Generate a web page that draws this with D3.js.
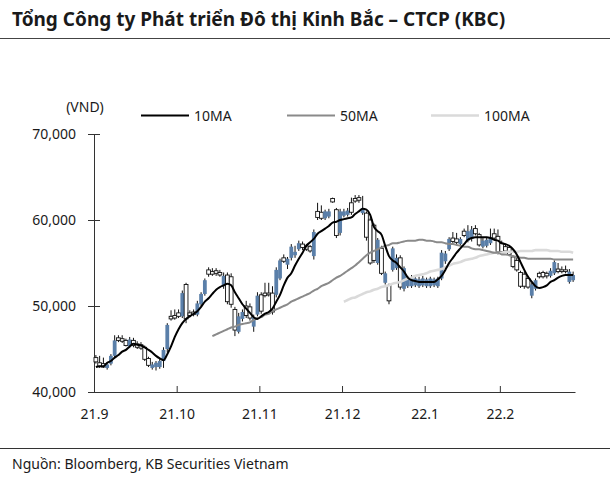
<!DOCTYPE html>
<html><head><meta charset="utf-8">
<script src="https://cdn.jsdelivr.net/npm/d3@7"></script>
<style>body{margin:0;background:#fff} text{font-family:"Noto Sans",sans-serif;fill:#1a1a1a}</style>
</head><body><svg id="c" width="610" height="479"></svg>
<script>
// Prices in thousand VND, one entry per trading day (Sep 2021 – Feb 2022)
const openP=[44.0,43.4,43.3,42.8,43.3,44.2,46.3,46.2,46.0,45.3,46.0,45.6,45.5,45.2,43.9,42.8,42.9,42.9,43.6,45.0,
48.8,48.9,49.2,48.8,52.5,49.2,49.3,49.0,50.2,51.4,54.2,54.0,54.1,53.9,52.3,53.6,53.4,49.6,47.0,48.5,
50.0,49.9,47.6,49.0,51.3,51.5,51.5,51.5,51.3,53.2,55.6,54.8,55.6,55.9,56.6,57.2,57.0,56.9,55.8,61.0,
60.9,60.2,60.4,62.5,61.2,58.5,60.5,60.6,62.0,62.5,62.6,60.8,60.8,60.0,59.4,55.0,56.7,52.7,52.4,54.2,
54.4,55.6,52.0,52.3,52.3,52.4,52.3,52.4,52.3,52.3,52.4,52.3,53.2,55.2,56.6,57.9,57.8,57.2,58.7,57.6,
57.8,59.0,58.3,56.9,57.0,57.3,58.4,58.1,57.3,56.9,56.8,55.7,55.3,53.9,53.7,53.2,51.2,52.0,53.8,53.9,
53.8,53.5,53.8,54.3,54.2,54.2,52.8,53.0];
const highP=[44.3,44.2,44.0,43.4,44.4,46.6,46.6,46.6,46.2,46.4,46.3,45.9,45.8,45.4,44.1,43.5,43.6,43.9,45.2,48.0,
49.5,49.6,49.6,51.8,52.7,49.5,49.6,50.6,51.6,53.2,54.5,54.4,54.4,54.2,53.9,53.9,53.8,49.9,49.2,49.6,
50.6,50.3,49.0,51.6,51.6,52.7,52.7,52.3,54.5,55.5,56.0,55.7,57.2,57.0,57.6,57.5,57.2,57.1,58.9,62.0,
61.7,61.2,61.3,62.6,61.4,61.3,61.3,61.4,62.6,62.9,62.9,62.8,61.0,60.3,59.6,57.9,57.0,54.0,52.6,56.9,
56.0,55.9,54.6,53.5,53.6,53.5,53.4,53.5,53.3,53.4,53.3,53.4,56.5,56.4,58.0,58.6,58.5,58.0,59.0,59.4,
59.3,59.4,58.5,57.9,58.0,59.0,59.0,58.9,57.6,57.2,57.0,55.9,55.6,54.1,54.0,53.5,52.7,53.2,54.0,54.1,
54.0,54.4,55.3,55.0,54.6,54.7,54.3,54.0];
const lowP=[43.3,42.8,42.8,42.6,43.1,44.0,45.8,45.7,45.3,45.1,45.2,45.0,44.9,43.6,42.9,42.6,42.5,42.7,42.8,44.6,
48.3,48.4,48.6,48.6,48.0,48.7,48.8,48.8,50.0,51.2,53.4,53.5,53.5,53.4,52.0,50.2,49.8,46.5,46.8,48.2,
48.6,48.3,47.0,48.8,49.1,51.0,51.1,49.0,51.0,53.0,55.0,54.3,55.3,55.6,56.4,56.5,56.4,56.2,55.4,60.0,
60.0,60.0,60.2,62.0,57.9,58.2,60.3,60.4,60.6,62.0,62.0,60.6,57.6,54.8,55.0,54.8,53.6,52.5,50.2,54.0,
54.2,51.9,51.7,52.1,52.1,52.2,52.1,52.2,52.1,52.1,52.2,52.1,53.0,54.9,56.4,57.2,57.2,57.0,58.0,57.4,
57.5,58.2,56.9,56.7,56.8,57.1,57.7,56.0,56.1,56.2,55.8,54.4,54.0,52.1,52.0,52.0,50.9,51.8,53.2,53.2,
53.2,53.3,53.6,53.8,53.8,53.8,52.6,52.8];
const closeP=[43.5,43.0,42.9,43.2,44.2,46.0,46.0,45.9,45.4,46.1,45.4,45.2,45.1,43.8,43.1,43.2,43.4,43.6,44.9,47.8,
48.5,48.6,48.8,51.5,48.5,48.9,49.0,50.3,51.4,53.0,53.7,53.7,53.8,53.6,53.5,50.5,50.2,47.2,48.8,49.3,
48.9,48.6,48.7,51.2,49.4,51.2,51.3,49.3,54.2,55.3,55.2,55.5,56.9,56.3,57.3,56.8,56.6,56.4,58.6,60.3,
60.2,61.0,61.0,62.1,58.2,61.0,61.0,61.1,60.9,62.2,62.3,61.4,58.0,55.0,55.3,57.7,53.8,53.8,50.6,56.7,
55.6,52.2,54.4,53.3,53.2,53.2,53.1,53.2,53.1,53.2,53.1,53.2,56.2,56.1,57.8,57.5,57.4,57.8,58.2,58.7,
58.9,58.4,57.1,57.6,57.7,58.0,57.9,56.3,56.3,56.4,56.0,54.6,54.2,52.3,52.3,52.2,52.5,53.0,53.4,53.4,
53.5,54.1,55.1,54.0,54.0,54.0,54.0,53.6];
// Moving averages
const ma10=[42.9,43.0,43.0,43.4,43.6,44.0,44.3,44.7,44.9,45.3,45.6,45.5,45.4,45.2,44.9,44.6,44.2,43.9,43.7,44.4,
45.3,46.4,47.3,48.0,48.5,48.8,49.1,49.4,49.9,50.5,50.9,51.4,51.9,52.2,52.4,52.6,52.4,51.6,50.9,50.2,
49.7,49.2,48.7,48.5,48.8,49.1,49.3,49.7,50.5,51.3,52.4,53.3,53.8,54.7,55.5,56.2,57.0,57.4,57.8,58.4,
58.7,59.0,59.3,59.7,59.8,60.0,60.1,60.2,60.3,60.7,61.0,61.3,61.2,60.6,59.2,58.7,58.3,57.0,55.8,55.3,
55.0,54.5,54.0,53.3,53.0,52.9,52.8,52.8,52.8,52.8,52.8,53.1,53.5,54.2,55.0,55.6,56.2,56.7,57.2,57.7,
57.9,58.0,58.0,58.0,58.0,57.9,57.7,57.6,57.3,57.2,57.0,56.6,56.0,55.1,54.2,53.4,52.8,52.3,52.1,52.2,
52.4,52.8,53.0,53.3,53.5,53.6,53.6,53.6];
const ma50Start=31;
const ma50=[46.5,46.7,46.9,47.1,47.3,47.5,47.6,47.8,47.9,
48.0,48.1,48.4,48.6,48.7,49.0,49.1,49.4,49.6,49.8,50.0,50.2,50.5,50.7,50.9,51.1,51.3,51.5,51.8,52.0,
52.3,52.5,52.7,53.0,53.3,53.5,53.8,54.1,54.4,54.7,55.1,55.5,55.9,56.2,56.4,56.6,56.8,57.0,57.1,57.3,
57.3,57.4,57.5,57.6,57.6,57.6,57.7,57.7,57.6,57.6,57.5,57.4,57.4,57.3,57.2,57.2,57.1,57.0,56.9,56.9,
56.7,56.6,56.6,56.5,56.4,56.3,56.2,56.2,56.0,56.0,55.9,55.8,55.7,55.6,55.6,55.5,55.5,55.5,55.5,55.5,
55.5,55.5,55.4,55.4,55.4,55.4,55.4,55.4];
const ma100Start=66;
const ma100=[50.5,50.7,50.9,51.0,51.2,51.4,51.6,51.7,51.9,52.0,52.2,52.3,52.4,52.6,
52.7,52.8,53.0,53.2,53.3,53.5,53.6,53.7,53.8,54.0,54.1,54.2,54.3,54.5,54.7,54.9,55.0,55.1,55.3,55.4,
55.5,55.6,55.8,55.9,56.0,56.1,56.2,56.2,56.2,56.3,56.3,56.3,56.3,56.4,56.4,56.4,56.4,56.5,56.5,56.5,
56.5,56.4,56.4,56.4,56.3,56.3,56.3,56.2];
const tickIndex=[0,22,44,66,88,108];
const tickLabels=["21.9","21.10","21.11","21.12","22.1","22.2"];
const yTicks=[40,50,60,70];
const seriesNames=["10MA","50MA","100MA"];

const svg=d3.select("#c");
const N=closeP.length;
const x=d3.scaleLinear().domain([0,N]).range([94,575]);
const y=d3.scaleLinear().domain([40,70]).range([392,134]);
const BLUE="#5a7fa9";

svg.append("text").attr("x",12).attr("y",26).attr("font-size",19).attr("font-weight","bold").text("Tổng Công ty Phát triển Đô thị Kinh Bắc – CTCP (KBC)");
svg.append("line").attr("x1",0).attr("x2",610).attr("y1",38.5).attr("y2",38.5).attr("stroke","#444").attr("stroke-width",1);

// axes
const yAx=svg.append("g").attr("transform","translate(94,0)")
  .call(d3.axisLeft(y).tickValues(yTicks).tickSize(6).tickSizeOuter(0).tickPadding(12).tickFormat(d=>d3.format(",")(d*1000)));
yAx.selectAll(".tick line").attr("x2",-6).attr("x1",6);
yAx.selectAll("text").attr("font-size",14);
const xAx=svg.append("g").attr("transform","translate(0,392)")
  .call(d3.axisBottom(x).tickValues(tickIndex).tickSize(-6).tickSizeOuter(0).tickPadding(17).tickFormat((d,i)=>tickLabels[i]));
xAx.selectAll("text").attr("font-size",14);
svg.selectAll(".domain,.tick line").attr("stroke","#333");

// candles
const idx=d3.range(N);
const bw=3.8;
const g=svg.append("g");
g.selectAll("line.w").data(idx).join("line")
 .attr("x1",i=>x(i+0.5)).attr("x2",i=>x(i+0.5))
 .attr("y1",i=>y(highP[i])).attr("y2",i=>y(lowP[i]))
 .attr("stroke","#111").attr("stroke-width",1);
g.selectAll("rect").data(idx).join("rect")
 .attr("x",i=>x(i+0.5)-bw/2)
 .attr("y",i=>y(Math.max(openP[i],closeP[i])))
 .attr("width",bw)
 .attr("height",i=>Math.max(1,Math.abs(y(openP[i])-y(closeP[i]))))
 .attr("fill",i=>closeP[i]>=openP[i]?BLUE:"#fff")
 .attr("stroke",i=>closeP[i]>=openP[i]?"none":"#111")
 .attr("stroke-width",0.9);

// MAs
const line=d3.line().x(d=>x(d[0]+0.5)).y(d=>y(d[1])).curve(d3.curveMonotoneX);
const maDefs=[
 {data:ma10.map((v,i)=>[i,v]),color:"#000",w:2},
 {data:ma50.map((v,i)=>[i+ma50Start,v]),color:"#8a8a8a",w:2},
 {data:ma100.map((v,i)=>[i+ma100Start,v]),color:"#dadada",w:2.6}
];
maDefs.slice().reverse().forEach(m=>{
 svg.append("path").attr("d",line(m.data)).attr("fill","none").attr("stroke",m.color).attr("stroke-width",m.w);
});

// legend
svg.append("text").attr("x",85).attr("y",112).attr("text-anchor","middle").attr("font-size",14).text("(VND)");
const legX=[141,287,431];
seriesNames.forEach((n,i)=>{
 svg.append("line").attr("x1",legX[i]).attr("x2",legX[i]+48).attr("y1",115.5).attr("y2",115.5)
   .attr("stroke",maDefs[i].color).attr("stroke-width",maDefs[i].w);
 svg.append("text").attr("x",legX[i]+53).attr("y",120.5).attr("font-size",14).text(n);
});

// source
svg.append("line").attr("x1",0).attr("x2",610).attr("y1",448.5).attr("y2",448.5).attr("stroke","#333").attr("stroke-width",1);
svg.append("text").attr("x",12).attr("y",469).attr("font-size",14).text("Nguồn: Bloomberg, KB Securities Vietnam");
</script></body></html>
